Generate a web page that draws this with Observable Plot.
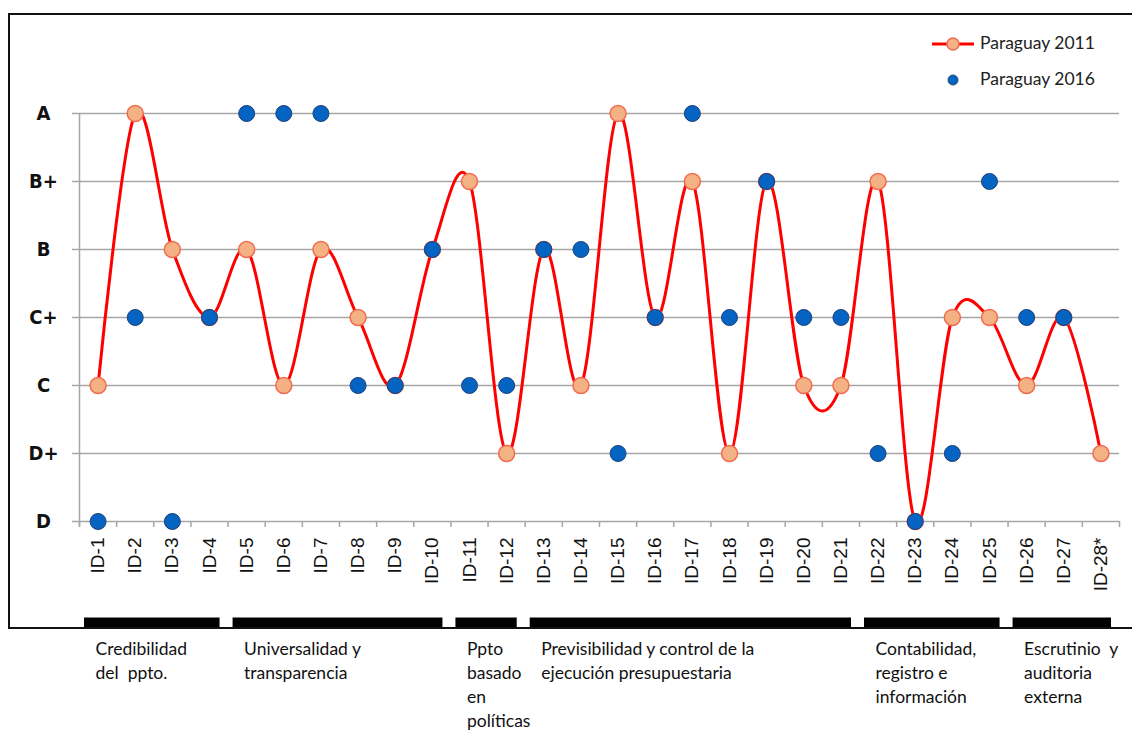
<!DOCTYPE html>
<html>
<head>
<meta charset="utf-8">
<script src="https://cdn.jsdelivr.net/npm/d3@7"></script>
<script src="https://cdn.jsdelivr.net/npm/@observablehq/plot@0.6"></script>
<style>
  html, body { margin: 0; padding: 0; background: #fff; }
  #wrap { position: relative; width: 1132px; height: 731px; overflow: hidden; background: #fff; }
  #wrap > #chart svg { position: absolute; left: 0; top: 0; }
  #border { position: absolute; left: 8px; top: 13px; width: 1140px; height: 612px; border: 2px solid #111; pointer-events: none; }
  #legend { position: absolute; left: 928px; top: 30px; font-family: Lato, "Open Sans", sans-serif; font-size: 17.5px; color: #222; white-space: nowrap; }
  .leg-row { position: relative; height: 36px; width: 190px; }
  .leg-row svg { position: absolute; left: 0; top: 0; }
  .leg-row span { position: absolute; left: 52px; top: 2px; }
  g[aria-label="xlabels"] text { letter-spacing: 1px; }
</style>
</head>
<body>
<div id="wrap">
  <div id="chart"></div>
  <div id="border"></div>
  <div id="legend">
    <div class="leg-row">
      <svg width="50" height="28"><line x1="4" y1="14" x2="46" y2="14" stroke="#ff0000" stroke-width="3"/><circle cx="25" cy="14" r="6" fill="#f4b183" stroke="#f26a50" stroke-width="1.5"/></svg>
      <span>Paraguay 2011</span>
    </div>
    <div class="leg-row">
      <svg width="50" height="28"><circle cx="25" cy="14" r="5" fill="#0563c1" stroke="#1f4e79" stroke-width="1"/></svg>
      <span>Paraguay 2016</span>
    </div>
  </div>
</div>
<script>
// ---- data ----
const grades = ["A", "B+", "B", "C+", "C", "D+", "D"];
const ids = ["ID-1","ID-2","ID-3","ID-4","ID-5","ID-6","ID-7","ID-8","ID-9","ID-10",
             "ID-11","ID-12","ID-13","ID-14","ID-15","ID-16","ID-17","ID-18","ID-19","ID-20",
             "ID-21","ID-22","ID-23","ID-24","ID-25","ID-26","ID-27","ID-28*"];
const paraguay2011 = ["C","A","B","C+","B","C","B","C+","C","B",
                      "B+","D+","B","C","A","C+","B+","D+","B+","C",
                      "C","B+","D","C+","C+","C","C+","D+"];
const paraguay2016 = ["D","C+","D","C+","A","A","A","C","C","B",
                      "C","C","B","B","D+","C+","A","C+","B+","C+",
                      "C+","D+","D","D+","B+","C+","C+",null];
const groupLabels = ["Credibilidad\ndel  ppto.", "Universalidad y\ntransparencia", "Ppto\nbasado\nen\npolíticas",
                     "Previsibilidad y control de la\nejecución presupuestaria", "Contabilidad,\nregistro e\ninformación",
                     "Escrutinio  y\nauditoria\nexterna"];
const groupFirst = [1, 5, 11, 13, 22, 26];
const groupLast  = [4, 10, 12, 21, 25, 28];

// ---- derived tables ----
const s2011 = ids.map((id, i) => ({i: i + 1, id, g: paraguay2011[i]}));
const s2016 = ids.map((id, i) => ({i: i + 1, id, g: paraguay2016[i]})).filter(d => d.g != null);
const groups = groupLabels.map((label, k) => ({label, first: groupFirst[k], last: groupLast[k]}));
const boundaries = d3.range(0, ids.length + 1).map(k => k + 0.5);

const W = 1132, H = 731;
const chart = Plot.plot({
  width: W,
  height: H,
  marginLeft: 79,
  marginRight: 13,
  marginTop: 113,
  marginBottom: 210,
  style: {background: "transparent", overflow: "visible"},
  x: {type: "linear", domain: [0.5, ids.length + 0.5], range: [79, 1119], axis: null},
  y: {type: "point", domain: grades, range: [113, 521], padding: 0, axis: null},
  marks: [
    // horizontal gridlines
    Plot.ruleY(grades, {y: d => d, stroke: "#a6a6a6", strokeWidth: 1.5, insetLeft: -7}),
    // vertical axis line
    Plot.ruleX([0.5], {x: d => d, y1: () => "A", y2: () => "D", stroke: "#a6a6a6", strokeWidth: 1.5, insetBottom: -6}),
    // x tick marks at category boundaries
    Plot.ruleX(boundaries, {x: d => d, y1: () => "D", y2: () => "D", stroke: "#a6a6a6", strokeWidth: 1.5, insetBottom: -6}),
    // y labels
    Plot.text(grades, {y: d => d, text: d => d, frameAnchor: "left", dx: -36, textAnchor: "middle",
      fontWeight: "bold", fontSize: 20, fill: "#111",
      fontFamily: "'Liberation Sans Narrow', 'DejaVu Sans Condensed', 'Liberation Sans', sans-serif"}),
    // x labels (rotated)
    Plot.text(s2011, {x: "i", y: () => "D", text: "id", rotate: -90, textAnchor: "end", dy: 16,
      fontSize: 19, fill: "#111", fontFamily: "'Liberation Sans', Arial, sans-serif", ariaLabel: "xlabels"}),
    // 2011 smoothed line
    Plot.line(s2011, {x: "i", y: "g", stroke: "#ff0000", strokeWidth: 3, curve: "cardinal", tension: 0}),
    Plot.dot(s2011, {x: "i", y: "g", r: 8, fill: "#f4b183", stroke: "#f26a50", strokeWidth: 1.5}),
    // 2016 points
    Plot.dot(s2016, {x: "i", y: "g", r: 8, fill: "#0563c1", stroke: "#1f3f7a", strokeWidth: 1}),
    // group bars
    Plot.ruleY(groups, {x1: d => d.first - 0.5, x2: d => d.last + 0.5, y: () => "D", dy: 101,
      stroke: "#000", strokeWidth: 10, insetLeft: 5, insetRight: 8}),
    // group labels
    Plot.text(groups, {x: d => d.first - 0.5, y: () => "D", text: "label", dy: 116, dx: 16,
      textAnchor: "start", lineAnchor: "top", lineHeight: 1.38, fontSize: 17.5, fill: "#111",
      fontFamily: "Lato, 'Open Sans', sans-serif"})
  ]
});
document.getElementById("chart").appendChild(chart);
</script>
</body>
</html>
